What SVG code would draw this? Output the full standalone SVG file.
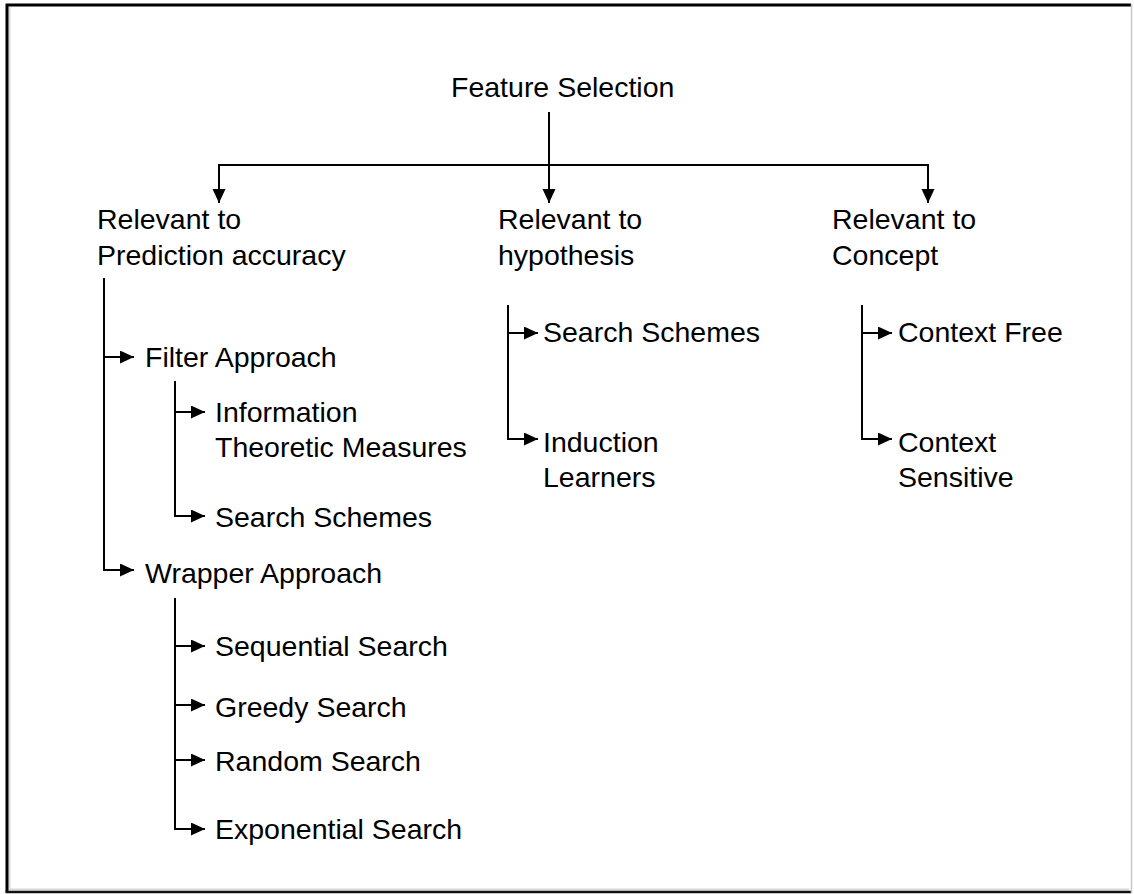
<svg xmlns="http://www.w3.org/2000/svg" width="1134" height="894" viewBox="0 0 1134 894">
<defs>
<marker id="ah" markerWidth="14" markerHeight="14" refX="14" refY="6.5" orient="auto" markerUnits="userSpaceOnUse">
<path d="M0,0 L14,6.5 L0,13 Z" fill="#000"/>
</marker>
<style>
text{font-family:"Liberation Sans",Arial,sans-serif;font-size:28.5px;fill:#000}
.c{fill:none;stroke:#000;stroke-width:2}
</style>
</defs>
<rect x="0" y="0" width="1134" height="894" fill="#fff"/>
<g id="frame">
<path d="M9.5,7 V889.5 H1129" fill="none" stroke="#d8d8d8" stroke-width="2"/>
<path d="M7,892 V5 H1131" fill="none" stroke="#000" stroke-width="3"/>
<path d="M5.5,892 H1131.5" fill="none" stroke="#111" stroke-width="2.5"/>
<path d="M1131.5,4 V893" fill="none" stroke="#c8c8c8" stroke-width="1.5"/>
</g>
<g id="connectors">
<path class="c" d="M549,112 V203" marker-end="url(#ah)"/>
<path class="c" d="M219,203 V165 H928 V203"/>
<path class="c" d="M219,185 V203" marker-end="url(#ah)"/>
<path class="c" d="M928,185 V203" marker-end="url(#ah)"/>
<path class="c" d="M104,278 V570 H134" marker-end="url(#ah)"/>
<path class="c" d="M104,357 H134" marker-end="url(#ah)"/>
<path class="c" d="M175,381 V516 H205" marker-end="url(#ah)"/>
<path class="c" d="M175,412 H205" marker-end="url(#ah)"/>
<path class="c" d="M175,598 V829 H205" marker-end="url(#ah)"/>
<path class="c" d="M175,646 H205" marker-end="url(#ah)"/>
<path class="c" d="M175,705 H205" marker-end="url(#ah)"/>
<path class="c" d="M175,760 H205" marker-end="url(#ah)"/>
<path class="c" d="M508,305 V439 H538" marker-end="url(#ah)"/>
<path class="c" d="M508,333 H538" marker-end="url(#ah)"/>
<path class="c" d="M862,305 V439 H892" marker-end="url(#ah)"/>
<path class="c" d="M862,333 H892" marker-end="url(#ah)"/>
</g>
<g id="n-root"><text x="451" y="97">Feature Selection</text></g>
<g id="n-pred"><text x="97" y="229">Relevant to</text><text x="97" y="265">Prediction accuracy</text></g>
<g id="n-hyp"><text x="498" y="229">Relevant to</text><text x="498" y="265">hypothesis</text></g>
<g id="n-con"><text x="832" y="229">Relevant to</text><text x="832" y="265">Concept</text></g>
<g id="n-filter"><text x="145" y="367">Filter Approach</text></g>
<g id="n-info"><text x="215" y="422">Information</text><text x="215" y="457">Theoretic Measures</text></g>
<g id="n-fss"><text x="215" y="527">Search Schemes</text></g>
<g id="n-wrapper"><text x="145" y="583">Wrapper Approach</text></g>
<g id="n-seq"><text x="215" y="656">Sequential Search</text></g>
<g id="n-greedy"><text x="215" y="717">Greedy Search</text></g>
<g id="n-random"><text x="215" y="771">Random Search</text></g>
<g id="n-exp"><text x="215" y="839">Exponential Search</text></g>
<g id="n-hss"><text x="543" y="342">Search Schemes</text></g>
<g id="n-ind"><text x="543" y="452">Induction</text><text x="543" y="487">Learners</text></g>
<g id="n-cf"><text x="898" y="342">Context Free</text></g>
<g id="n-cs"><text x="898" y="452">Context</text><text x="898" y="487">Sensitive</text></g>
</svg>
